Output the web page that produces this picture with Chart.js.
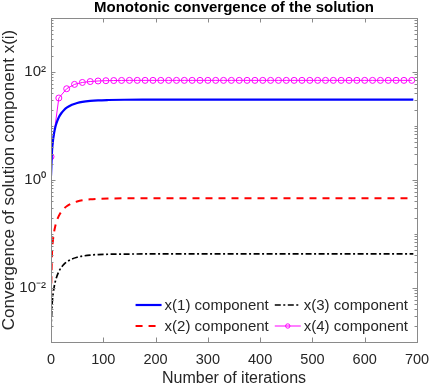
<!DOCTYPE html>
<html>
<head>
<meta charset="utf-8">
<script src="https://cdn.jsdelivr.net/npm/chart.js@4"></script>
<style>
  html, body { margin: 0; padding: 0; background: #fff; }
  #wrap { width: 429px; height: 388px; }
</style>
</head>
<body>
<div id="wrap"><canvas id="chartConv" width="429" height="388"></canvas></div>
<script>
// Data
const iterations = [0, 2, 4, 6, 8, 10, 15, 20, 25, 30, 40, 50, 60, 75, 90, 110, 140, 180, 250, 400, 550, 693];
const x1Values = [1.2, 3.5, 5.6, 7.5, 9.3, 10.9, 14.5, 17.4, 19.8, 21.8, 24.7, 26.7, 28.0, 29.2, 29.9, 30.3, 30.6, 30.7, 30.7, 30.7, 30.7, 30.7];
const x2Values = [0.007, 0.045, 0.08, 0.11, 0.138, 0.163, 0.217, 0.261, 0.297, 0.327, 0.371, 0.4, 0.42, 0.438, 0.448, 0.454, 0.458, 0.46, 0.46, 0.46, 0.46, 0.46];
const x3Values = [0.00167, 0.0048, 0.0077, 0.0104, 0.0129, 0.0152, 0.0202, 0.0243, 0.0276, 0.0304, 0.0344, 0.0371, 0.039, 0.0407, 0.0416, 0.0422, 0.0425, 0.0427, 0.0427, 0.0427, 0.0427, 0.0427];

// x(4) is sampled every 15 iterations (with markers)
const markerIterations = [0, 15, 30, 45, 60, 75, 90, 105, 120, 135, 150, 165, 180, 195, 210, 225, 240, 255, 270, 285,
  300, 315, 330, 345, 360, 375, 390, 405, 420, 435, 450, 465, 480, 495, 510, 525, 540, 555, 570, 585,
  600, 615, 630, 645, 660, 675, 690];
const x4Values = [2.7, 33, 49, 59, 64, 66.6, 68.2, 69, 69.5, 69.8, 70, 70, 70, 70, 70, 70, 70, 70, 70, 70,
  70, 70, 70, 70, 70, 70, 70, 70, 70, 70, 70, 70, 70, 70, 70, 70, 70, 70, 70, 70,
  70, 70, 70, 70, 70, 70, 70];

const seriesLabels = ['x(1) component', 'x(2) component', 'x(3) component', 'x(4) component'];
const xTickValues = [0, 100, 200, 300, 400, 500, 600, 700];
const yTickValues = [1e-2, 1, 1e2];
const yTickLabels = ['10\u207B\u00B2', '10\u2070', '10\u00B2'];

const AXIS_GREY = '#8a8a8a';
const TEXT_COL = '#262626';
const FONT = "'Liberation Sans', Arial, Helvetica, sans-serif";

const toPoints = (xs, ys) => xs.map((x, i) => ({ x, y: ys[i] }));

/** MATLAB-like box with inward ticks on all four sides */
const boxTicks = {
  id: 'boxTicks',
  afterDatasetsDraw(chart) {
    const { ctx, chartArea: a, scales: { x, y } } = chart;
    ctx.save();
    ctx.strokeStyle = AXIS_GREY;
    ctx.lineWidth = 1;
    ctx.beginPath();
    // x ticks bottom + top
    for (const v of xTickValues) {
      const px = Math.round(x.getPixelForValue(v)) + 0.5;
      ctx.moveTo(px, a.bottom); ctx.lineTo(px, a.bottom - 4.5);
      ctx.moveTo(px, a.top); ctx.lineTo(px, a.top + 4.5);
    }
    // y ticks: every 1..9 x 10^n, longer at labelled values
    for (let e = -3; e < 3; e++) {
      for (let s = 1; s <= 9; s++) {
        const v = s * Math.pow(10, e);
        const py = Math.round(y.getPixelForValue(v)) + 0.5;
        const len = yTickValues.some(t => Math.abs(t - v) / v < 1e-6) ? 4.5 : 2.5;
        ctx.moveTo(a.left, py); ctx.lineTo(a.left + len, py);
        ctx.moveTo(a.right, py); ctx.lineTo(a.right - len, py);
      }
    }
    ctx.stroke();
    ctx.strokeRect(Math.round(a.left) + 0.5, Math.round(a.top) + 0.5,
      Math.round(a.right - a.left), Math.round(a.bottom - a.top));
    ctx.restore();
  }
};

/** Legend in the lower right of the plot area, two columns */
const insideLegend = {
  id: 'insideLegend',
  afterDraw(chart) {
    const { ctx, chartArea: a } = chart;
    const ds = chart.data.datasets;
    ctx.save();
    ctx.font = `15px ${FONT}`;
    ctx.textBaseline = 'middle';
    ctx.fillStyle = TEXT_COL;
    const sample = 26, gap = 3, colGap = 6, rowH = 21;
    const textW = Math.max(...ds.map(d => ctx.measureText(d.label).width));
    const colW = sample + gap + textW;
    const right = a.right - 9;
    const cols = [right - colW * 2 - colGap, right - colW];
    const rows = [a.bottom - 16 - rowH, a.bottom - 16];
    // column-major order: x(1), x(2) | x(3), x(4)
    ds.forEach((d, i) => {
      const cx = cols[Math.floor(i / 2)];
      const cy = rows[i % 2];
      ctx.save();
      ctx.strokeStyle = d.borderColor;
      ctx.lineWidth = d.borderWidth;
      ctx.setLineDash(d.borderDash || []);
      ctx.beginPath();
      ctx.moveTo(cx, cy); ctx.lineTo(cx + sample, cy);
      ctx.stroke();
      if (d.pointRadius > 0) {
        ctx.setLineDash([]);
        ctx.lineWidth = 1;
        ctx.beginPath();
        ctx.arc(cx + sample / 2, cy, 2.2, 0, Math.PI * 2);
        ctx.stroke();
      }
      ctx.restore();
      ctx.fillText(d.label, cx + sample + gap, cy + 0.5);
    });
    ctx.restore();
  }
};

const chart = new Chart(document.getElementById('chartConv'), {
  type: 'line',
  data: {
    datasets: [
      {
        label: seriesLabels[0], data: toPoints(iterations, x1Values),
        borderColor: '#0000ff', borderWidth: 2.2, pointRadius: 0, cubicInterpolationMode: 'monotone'
      },
      {
        label: seriesLabels[1], data: toPoints(iterations, x2Values),
        borderColor: '#ff0000', borderWidth: 2, borderDash: [7, 6], pointRadius: 0, cubicInterpolationMode: 'monotone'
      },
      {
        label: seriesLabels[2], data: toPoints(iterations, x3Values),
        borderColor: '#000000', borderWidth: 1.7, borderDash: [6, 2.5, 2, 2.5], pointRadius: 0, cubicInterpolationMode: 'monotone'
      },
      {
        label: seriesLabels[3], data: toPoints(markerIterations, x4Values),
        borderColor: '#ff00ff', borderWidth: 1, pointRadius: 3, pointBorderWidth: 1,
        pointBorderColor: '#ff00ff', pointBackgroundColor: 'rgba(0,0,0,0)', tension: 0
      }
    ]
  },
  options: {
    responsive: false,
    devicePixelRatio: 1,
    animation: false,
    parsing: false,
    layout: { padding: { left: 0, right: 12, top: 0, bottom: 0 } },
    scales: {
      x: {
        type: 'linear',
        min: 0, max: 700,
        grid: { display: false, drawTicks: false },
        border: { display: false },
        afterBuildTicks: s => { s.ticks = xTickValues.map(v => ({ value: v })); },
        afterFit: s => { s.height = 46; s.paddingLeft = 0; s.paddingRight = 0; },
        ticks: {
          autoSkip: false, maxRotation: 0, padding: 9,
          color: TEXT_COL, font: { family: FONT, size: 14.5 },
          callback: v => String(v)
        },
        title: {
          display: true, text: 'Number of iterations', color: TEXT_COL,
          font: { family: FONT, size: 16, lineHeight: 1.1 }, padding: { top: 0, bottom: 1 }
        }
      },
      y: {
        type: 'logarithmic',
        min: 1e-3, max: 1e3,
        grid: { display: false, drawTicks: false },
        border: { display: false },
        afterBuildTicks: s => { s.ticks = yTickValues.map(v => ({ value: v })); },
        afterFit: s => { s.width = 51; s.paddingTop = 0; s.paddingBottom = 0; },
        ticks: {
          autoSkip: false, padding: 5,
          color: TEXT_COL, font: { family: FONT, size: 15 },
          callback: v => {
            const i = yTickValues.findIndex(t => Math.abs(t - v) / t < 1e-6);
            return i >= 0 ? yTickLabels[i] : '';
          }
        },
        title: {
          display: true, text: 'Convergence of solution component x(i)', color: TEXT_COL,
          font: { family: FONT, size: 17, lineHeight: 1.05 }, padding: { top: 0, bottom: 0 }
        }
      }
    },
    plugins: {
      legend: { display: false },
      tooltip: { enabled: false },
      title: {
        display: true, fullSize: false, text: 'Monotonic convergence of the solution', color: '#000',
        font: { family: FONT, size: 15, weight: 'bold', lineHeight: 1.1 },
        padding: { top: 0, bottom: 1.5 }
      }
    }
  },
  plugins: [boxTicks, insideLegend]
});
</script>
</body>
</html>
